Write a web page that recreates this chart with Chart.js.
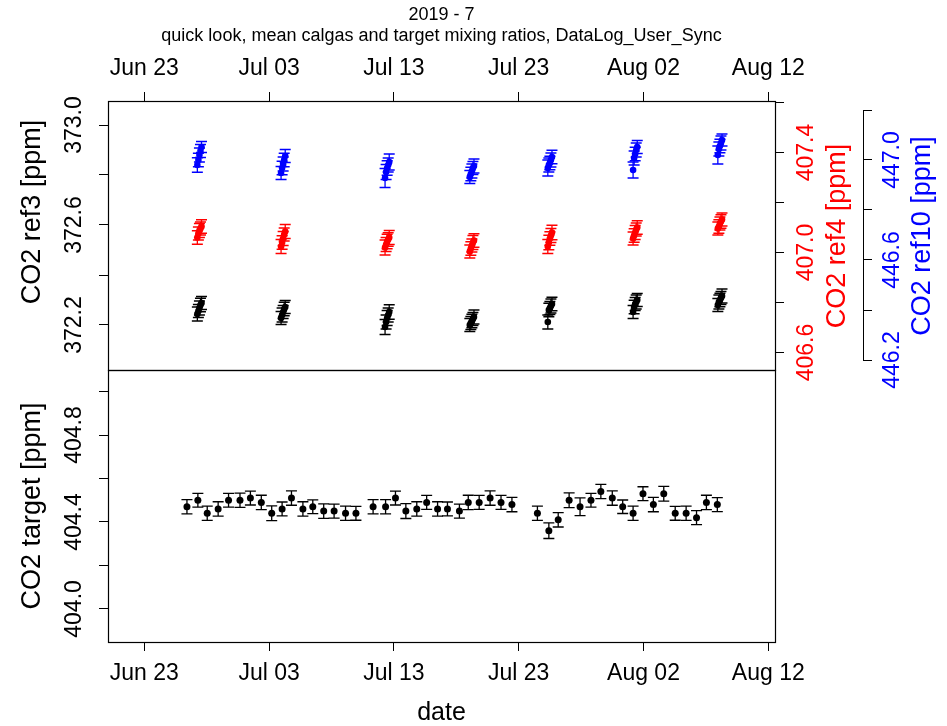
<!DOCTYPE html>
<html>
<head>
<meta charset="utf-8">
<title>2019 - 7 quick look</title>
<script src="https://cdn.jsdelivr.net/npm/chart.js@4.4.1/dist/chart.umd.min.js"></script>
<style>
  body { margin: 0; background: #fff; }
  #wrap { position: relative; width: 947px; height: 726px; }
  #top { position: absolute; left: 0; top: 0; }
  #bottom { position: absolute; left: 0; top: 369px; }
</style>
</head>
<body>
<div id="wrap">
  <canvas id="top" width="947" height="400"></canvas>
  <canvas id="bottom" width="947" height="357"></canvas>
</div>
<script>
const FONT = '"Liberation Sans", Arial, sans-serif';
Chart.defaults.font.family = FONT;

// calibration gas runs (UTC, 2019)
const calTimes = [
  "06-27 06:00", "06-27 08:00", "06-27 10:00", "06-27 12:00", "06-27 14:00",
  "07-03 23:00", "07-04 01:00", "07-04 03:00", "07-04 05:00", "07-04 07:00",
  "07-12 07:00", "07-12 09:00", "07-12 11:00", "07-12 13:00", "07-12 15:00",
  "07-19 02:00", "07-19 04:00", "07-19 06:00", "07-19 08:00", "07-19 10:00",
  "07-25 08:00", "07-25 10:00", "07-25 12:00", "07-25 14:00", "07-25 16:00",
  "08-01 04:00", "08-01 06:00", "08-01 08:00", "08-01 10:00", "08-01 12:00",
  "08-07 23:00", "08-08 01:00", "08-08 03:00", "08-08 05:00", "08-08 07:00"
];
const ref3 = [
  372.244, 372.256, 372.268, 372.280, 372.288,
  372.228, 372.240, 372.252, 372.264, 372.272,
  372.192, 372.212, 372.228, 372.240, 372.252,
  372.200, 372.208, 372.216, 372.224, 372.232,
  372.212, 372.260, 372.268, 372.276, 372.284,
  372.252, 372.272, 372.284, 372.292, 372.300,
  372.280, 372.292, 372.300, 372.308, 372.316
];
const ref4 = [
  407.060, 407.076, 407.088, 407.096, 407.104,
  407.024, 407.040, 407.056, 407.072, 407.084,
  407.020, 407.032, 407.044, 407.052, 407.060,
  407.004, 407.016, 407.028, 407.040, 407.048,
  407.024, 407.040, 407.056, 407.068, 407.080,
  407.056, 407.068, 407.080, 407.092, 407.100,
  407.096, 407.104, 407.116, 407.124, 407.132
];
const ref10 = [
  446.980, 447.000, 447.020, 447.036, 447.052,
  446.948, 446.968, 446.984, 447.000, 447.016,
  446.928, 446.952, 446.968, 446.980, 446.992,
  446.932, 446.944, 446.956, 446.968, 446.976,
  446.968, 446.980, 446.988, 447.000, 447.012,
  446.960, 447.008, 447.024, 447.040, 447.052,
  447.020, 447.044, 447.056, 447.068, 447.080
];
// standard deviations of each run
const ref3Sd = [
  0.028, 0.026, 0.028, 0.027, 0.026,
  0.026, 0.028, 0.026, 0.027, 0.026,
  0.030, 0.028, 0.030, 0.028, 0.029,
  0.026, 0.026, 0.027, 0.026, 0.028,
  0.028, 0.027, 0.026, 0.028, 0.027,
  0.026, 0.027, 0.026, 0.028, 0.026,
  0.026, 0.028, 0.027, 0.026, 0.028
];
const ref4Sd = [
  0.027, 0.026, 0.028, 0.026, 0.027,
  0.028, 0.027, 0.028, 0.026, 0.028,
  0.030, 0.028, 0.029, 0.027, 0.028,
  0.026, 0.027, 0.026, 0.028, 0.027,
  0.028, 0.029, 0.027, 0.028, 0.029,
  0.026, 0.027, 0.028, 0.026, 0.027,
  0.026, 0.027, 0.026, 0.027, 0.026
];
const ref10Sd = [
  0.029, 0.027, 0.028, 0.026, 0.022,
  0.026, 0.027, 0.028, 0.027, 0.026,
  0.038, 0.030, 0.029, 0.028, 0.032,
  0.026, 0.027, 0.028, 0.026, 0.028,
  0.032, 0.028, 0.027, 0.028, 0.027,
  0.032, 0.028, 0.027, 0.028, 0.026,
  0.036, 0.028, 0.027, 0.028, 0.024
];

// daily-ish target tank measurements
const targetTimes = [
  "06-26 10:00", "06-27 07:00", "06-28 01:00", "06-28 22:00", "06-29 18:00",
  "06-30 16:00", "07-01 12:00", "07-02 09:00", "07-03 05:00", "07-04 01:00",
  "07-04 19:00", "07-05 17:00", "07-06 12:00", "07-07 09:00", "07-08 05:00",
  "07-09 03:00", "07-09 23:00", "07-11 08:00", "07-12 08:00", "07-13 03:00",
  "07-13 23:00", "07-14 20:00", "07-15 15:00", "07-16 12:00", "07-17 07:00",
  "07-18 06:00", "07-18 23:00", "07-19 20:00", "07-20 17:00", "07-21 14:00",
  "07-22 11:00", "07-24 12:00", "07-25 10:00", "07-26 04:00", "07-27 01:00",
  "07-27 22:00", "07-28 19:00", "07-29 14:00", "07-30 12:00", "07-31 08:00",
  "08-01 04:00", "08-01 23:00", "08-02 19:00", "08-03 15:00", "08-04 13:00",
  "08-05 10:00", "08-06 06:00", "08-07 01:00", "08-07 22:00"
];
const target = [
  404.47, 404.50, 404.44, 404.46, 404.50,
  404.50, 404.51, 404.49, 404.44, 404.46,
  404.51, 404.46, 404.47, 404.45, 404.45,
  404.44, 404.44, 404.47, 404.47, 404.51,
  404.45, 404.46, 404.49, 404.46, 404.46,
  404.45, 404.49, 404.49, 404.51, 404.49,
  404.48, 404.44, 404.36, 404.41, 404.50,
  404.47, 404.50, 404.54, 404.51, 404.47,
  404.44, 404.53, 404.48, 404.53, 404.44,
  404.44, 404.42, 404.49, 404.48
];
const targetSd = [
  0.033, 0.032, 0.033, 0.033, 0.032,
  0.033, 0.032, 0.033, 0.034, 0.032,
  0.033, 0.033, 0.032, 0.033, 0.032,
  0.033, 0.032, 0.033, 0.033, 0.032,
  0.034, 0.033, 0.032, 0.033, 0.032,
  0.032, 0.033, 0.032, 0.033, 0.032,
  0.033, 0.033, 0.036, 0.033, 0.034,
  0.041, 0.032, 0.033, 0.033, 0.031,
  0.033, 0.032, 0.033, 0.034, 0.032,
  0.033, 0.032, 0.033, 0.032
];

// axis ticks and the ones that get a label
const xTicks = ["06-23", "07-03", "07-13", "07-23", "08-02", "08-12"];
const xTickLabels = ["Jun 23", "Jul 03", "Jul 13", "Jul 23", "Aug 02", "Aug 12"];
const ref3Ticks = [372.2, 372.4, 372.6, 372.8, 373.0];
const ref3Shown = ["372.2", "372.6", "373.0"];
const ref4Ticks = [406.6, 406.8, 407.0, 407.2, 407.4, 407.6];
const ref4Shown = ["406.6", "407.0", "407.4"];
const ref10Ticks = [446.2, 446.4, 446.6, 446.8, 447.0, 447.2];
const ref10Shown = ["446.2", "446.6", "447.0"];
const targetTicks = [404.0, 404.2, 404.4, 404.6, 404.8, 405.0];
const targetShown = ["404.0", "404.4", "404.8"];

const toMs = s => Date.parse("2019-" + s.replace(" ", "T") + ":00Z");
const xMin = toMs("06-20 02:10");
const xMax = toMs("08-12 12:55");
const tickFont = {family: FONT, size: 23};
const titleFont = "27px " + FONT;

// fixed box sizes, and no extra room for labels hanging past the ends
function fixBox(s, key, size) {
  s[key] = size;
  s.paddingTop = s.paddingBottom = s.paddingLeft = s.paddingRight = 0;
}

function xAxis(pos, height, pad) {
  return {
    type: "linear", position: pos, min: xMin, max: xMax, bounds: "data",
    afterBuildTicks: s => { s.ticks = xTicks.map(d => ({value: toMs(d + " 00:00")})); },
    afterFit: s => fixBox(s, "height", height),
    border: {display: false},
    grid: {drawOnChartArea: false, tickLength: 9, tickColor: "#000"},
    ticks: {
      autoSkip: false, minRotation: 0, maxRotation: 0, padding: pad,
      color: "#000", font: tickFont,
      callback: (v, i) => xTickLabels[i]
    }
  };
}

function yAxis(min, max, tickVals, shown, color, pos, width, pad) {
  return {
    type: "linear", position: pos, min, max, bounds: "data",
    afterBuildTicks: s => { s.ticks = tickVals.map(v => ({value: v})); },
    afterFit: s => fixBox(s, "width", width),
    border: {display: false},
    grid: {drawOnChartArea: false, tickLength: 9, tickColor: "#000"},
    ticks: {
      autoSkip: false, minRotation: 90, maxRotation: 90, crossAlign: "center",
      padding: pad, color, font: tickFont,
      callback: v => shown.includes(v.toFixed(1)) ? v.toFixed(1) : ""
    }
  };
}

function calSet(vals, sd, color, axis) {
  return {
    data: vals.map((v, i) => ({x: toMs(calTimes[i]), y: v})),
    sd, barColor: color, yAxisID: axis,
    pointRadius: 3.3, pointBackgroundColor: color, pointBorderWidth: 0
  };
}

// box round the plotting region
const frame = {
  id: "frame",
  afterDraw(chart) {
    const {ctx, chartArea: a} = chart;
    ctx.save();
    ctx.strokeStyle = "#000";
    ctx.lineWidth = 1.2;
    ctx.strokeRect(a.left + 0.5, a.top + 0.5, a.right - a.left, a.bottom - a.top);
    ctx.restore();
  }
};

// +/- sd whiskers with caps
const errorBars = {
  id: "errorBars",
  beforeDatasetsDraw(chart) {
    const ctx = chart.ctx;
    chart.data.datasets.forEach((ds, i) => {
      const meta = chart.getDatasetMeta(i);
      const ys = chart.scales[ds.yAxisID];
      ctx.save();
      ctx.strokeStyle = ds.barColor;
      ctx.lineWidth = 1.3;
      ds.data.forEach((p, j) => {
        const x = meta.data[j].x;
        const lo = ys.getPixelForValue(p.y - ds.sd[j]);
        const hi = ys.getPixelForValue(p.y + ds.sd[j]);
        ctx.beginPath();
        ctx.moveTo(x, lo); ctx.lineTo(x, hi);
        ctx.moveTo(x - 5.5, lo); ctx.lineTo(x + 5.5, lo);
        ctx.moveTo(x - 5.5, hi); ctx.lineTo(x + 5.5, hi);
        ctx.stroke();
      });
      ctx.restore();
    });
  }
};

// axis lines of the right-hand scales and the y titles of the top panel
const sideAxes = {
  id: "sideAxes",
  afterDraw(chart) {
    const {ctx, scales} = chart;
    ctx.save();
    ctx.strokeStyle = "#000";
    ctx.lineWidth = 1;
    [["yRef4", ref4Ticks], ["yRef10", ref10Ticks]].forEach(([id, t]) => {
      const s = scales[id];
      const x = Math.round(s.left) + 0.5;
      ctx.beginPath();
      ctx.moveTo(x, s.getPixelForValue(t[0]));
      ctx.lineTo(x, s.getPixelForValue(t[t.length - 1]));
      ctx.stroke();
    });
    ctx.font = titleFont;
    ctx.textAlign = "center";
    ctx.textBaseline = "middle";
    const titles = [
      [scales.y.left + 33, 212, "CO2 ref3 [ppm]", "#000000"],
      [scales.yRef4.left + 63, 236, "CO2 ref4 [ppm]", "#ff0000"],
      [scales.yRef10.left + 60, 236, "CO2 ref10 [ppm]", "#0000ff"]
    ];
    titles.forEach(([x, y, text, color]) => {
      ctx.save();
      ctx.translate(x, y);
      ctx.rotate(-Math.PI / 2);
      ctx.fillStyle = color;
      ctx.fillText(text, 0, 0);
      ctx.restore();
    });
    ctx.restore();
  }
};

new Chart(document.getElementById("top"), {
  type: "scatter",
  data: {
    datasets: [
      calSet(ref3, ref3Sd, "#000000", "y"),
      calSet(ref4, ref4Sd, "#ff0000", "yRef4"),
      calSet(ref10, ref10Sd, "#0000ff", "yRef10")
    ]
  },
  options: {
    responsive: false, animation: false, events: [],
    layout: {autoPadding: false, padding: {top: 0, left: 0, right: 0, bottom: 30}},
    plugins: {
      legend: {display: false},
      tooltip: {enabled: false},
      title: {
        display: true, text: "2019 - 7", color: "#000", fullSize: false,
        font: {size: 18, weight: "normal"}, padding: {top: 4, bottom: 0}
      },
      subtitle: {
        display: true, text: "quick look, mean calgas and target mixing ratios, DataLog_User_Sync",
        color: "#000", fullSize: false, font: {size: 18}, padding: 0
      }
    },
    scales: {
      x: xAxis("top", 53.8, 9.5),
      y: yAxis(372.02, 373.096, ref3Ticks, ref3Shown, "#000000", "left", 108, -4.8),
      yRef4: yAxis(406.53, 407.606, ref4Ticks, ref4Shown, "#ff0000", "right", 88, -6.3),
      yRef10: yAxis(446.16, 447.236, ref10Ticks, ref10Shown, "#0000ff", "right", 84, -7.8)
    }
  },
  plugins: [frame, errorBars, sideAxes]
});

const xBottom = xAxis("bottom", 84, 9.2);
xBottom.title = {display: true, text: "date", color: "#000", font: {size: 25, lineHeight: 1}, padding: 0};
const yTarget = yAxis(403.848, 405.099, targetTicks, targetShown, "#000000", "left", 108, -4.8);
yTarget.title = {display: true, text: "CO2 target [ppm]", color: "#000", font: {size: 27}, padding: {top: 16.8, bottom: 0}};

new Chart(document.getElementById("bottom"), {
  type: "scatter",
  data: {
    datasets: [{
      data: target.map((v, i) => ({x: toMs(targetTimes[i]), y: v})),
      sd: targetSd, barColor: "#000000", yAxisID: "y",
      pointRadius: 3.5, pointBackgroundColor: "#000000", pointBorderWidth: 0
    }]
  },
  options: {
    responsive: false, animation: false, events: [],
    layout: {autoPadding: false, padding: {top: 1, left: 0, right: 172, bottom: 0}},
    plugins: {legend: {display: false}, tooltip: {enabled: false}},
    scales: {x: xBottom, y: yTarget}
  },
  plugins: [frame, errorBars]
});
</script>
</body>
</html>
